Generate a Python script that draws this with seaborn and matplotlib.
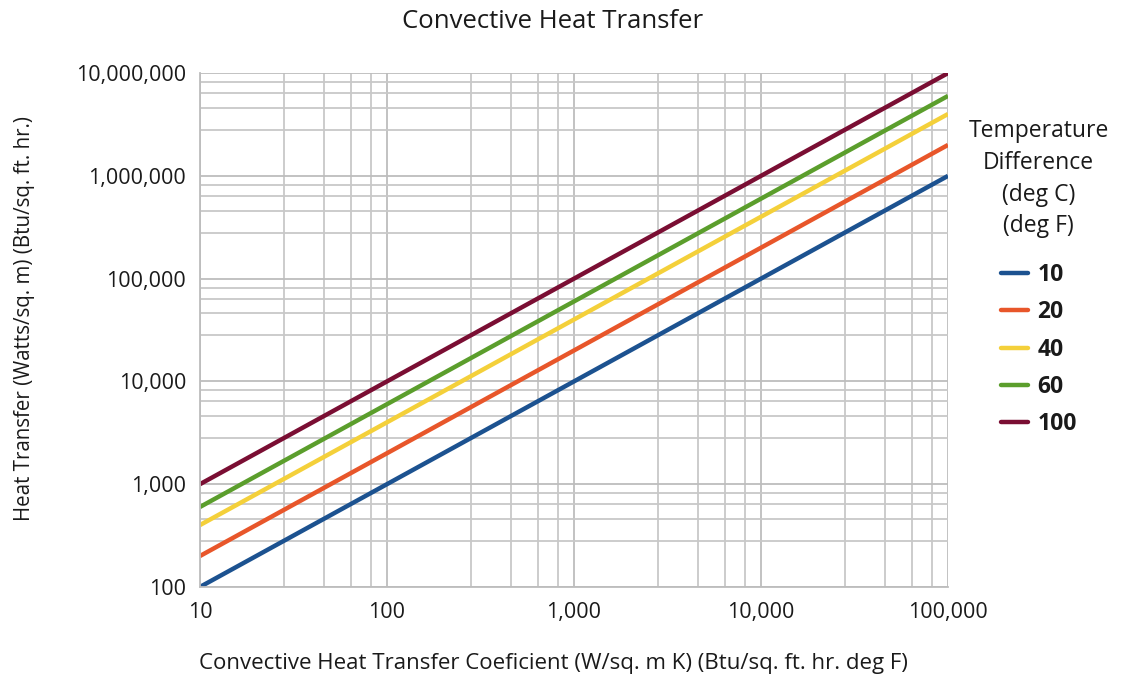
import matplotlib
matplotlib.use("Agg")
import matplotlib.pyplot as plt
import matplotlib.ticker as mticker
import seaborn as sns
import pandas as pd

# ---- data ----
coefficient = [10, 100, 1000, 10000, 100000]
temp_diffs = ["10", "20", "40", "60", "100"]
q_10 = [100, 1000, 10000, 100000, 1000000]
q_20 = [200, 2000, 20000, 200000, 2000000]
q_40 = [400, 4000, 40000, 400000, 4000000]
q_60 = [600, 6000, 60000, 600000, 6000000]
q_100 = [1000, 10000, 100000, 1000000, 10000000]
series = [q_10, q_20, q_40, q_60, q_100]
colors = ["#1c5290", "#e8562a", "#f4d03a", "#5b9e2c", "#7a0e33"]

x_major = [10, 100, 1000, 10000, 100000]
x_labels = ["10", "100", "1,000", "10,000", "100,000"]
y_major = [100, 1000, 10000, 100000, 1000000, 10000000]
y_labels = ["100", "1,000", "10,000", "100,000", "1,000,000", "10,000,000"]
minor_mult = [2.8, 4.6, 6.4, 8.2]

rows = []
for dt, vals in zip(temp_diffs, series):
    for x, y in zip(coefficient, vals):
        rows.append({"coef": x, "q": y, "dT": dt})
df = pd.DataFrame(rows)

sns.set_theme(style="white")
plt.rcParams["font.family"] = ["Open Sans", "DejaVu Sans"]

fig = plt.figure(figsize=(11.36, 6.77), dpi=100)
ax = fig.add_axes([0.176, 0.133, 0.6585, 0.759])

sns.lineplot(data=df, x="coef", y="q", hue="dT", hue_order=temp_diffs,
             palette=colors, linewidth=3.2, ax=ax, legend=False,
             solid_capstyle="butt")

ax.set_xscale("log")
ax.set_yscale("log")
ax.set_xlim(10, 100000)
ax.set_ylim(100, 10000000)

ax.xaxis.set_major_locator(mticker.FixedLocator(x_major))
ax.xaxis.set_major_formatter(mticker.FixedFormatter(x_labels))
ax.yaxis.set_major_locator(mticker.FixedLocator(y_major))
ax.yaxis.set_major_formatter(mticker.FixedFormatter(y_labels))
ax.xaxis.set_minor_locator(mticker.LogLocator(base=10, subs=minor_mult, numticks=20))
ax.yaxis.set_minor_locator(mticker.LogLocator(base=10, subs=minor_mult, numticks=20))
ax.xaxis.set_minor_formatter(mticker.NullFormatter())
ax.yaxis.set_minor_formatter(mticker.NullFormatter())

ax.grid(True, which="major", color="#bdbdbd", linewidth=1.3)
ax.grid(True, which="minor", color="#c8c8c8", linewidth=1.3)
ax.set_axisbelow(True)

ax.tick_params(axis="both", which="major", labelsize=15.5, colors="#1a1a1a",
               length=6, width=1, direction="out", color="#bdbdbd", pad=4)
ax.tick_params(axis="both", which="minor", length=0)
ax.tick_params(axis="x", which="major", length=7)
for s in ["top", "right"]:
    ax.spines[s].set_visible(False)
for s in ["left", "bottom"]:
    ax.spines[s].set_color("#bdbdbd")
    ax.spines[s].set_linewidth(1.3)

fig.text(553 / 1136, 1 - 22 / 677, "Convective Heat Transfer", fontsize=18.5,
         color="#1a1a1a", ha="center", va="center")
ax.set_xlabel("Convective Heat Transfer Coeficient (W/sq. m K) (Btu/sq. ft. hr. deg F)",
              fontsize=16, color="#1a1a1a")
ax.xaxis.set_label_coords(0.473, -0.148)
ax.xaxis.label.set_va("center")
ax.set_ylabel("Heat Transfer (Watts/sq. m) (Btu/sq. ft. hr.)",
              fontsize=14.8, color="#1a1a1a")
ax.yaxis.set_label_coords(-0.234, 0.523)
ax.yaxis.label.set_va("center")

handles = [plt.Line2D([0], [0], color=c, linewidth=3.2) for c in colors]
leg = ax.legend(handles, temp_diffs,
                title="Temperature\nDifference\n(deg C)\n(deg F)",
                loc="upper left", bbox_to_anchor=(1.0, 0.95),
                frameon=False, fontsize=16.5, title_fontsize=16.5,
                handlelength=1.2, handletextpad=0.4, labelspacing=0.58)
leg._legend_box.align = "center"
leg._legend_box.sep = 18
for t in leg.get_texts():
    t.set_fontweight("bold")
    t.set_color("#1a1a1a")
leg.get_title().set_multialignment("center")
leg.get_title().set_linespacing(1.42)
leg.get_title().set_color("#1a1a1a")

fig.savefig("out.png", dpi=100)
